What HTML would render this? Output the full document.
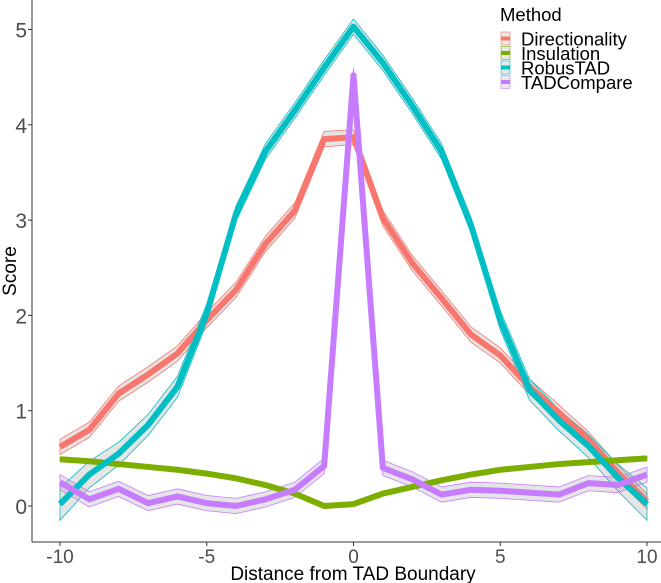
<!DOCTYPE html>
<html><head><meta charset="utf-8"><style>
body{margin:0;background:#fff;}
svg{display:block;font-family:"Liberation Sans",sans-serif;}
</style></head><body>
<svg id="chart" width="661" height="583" viewBox="0 0 661 583" xmlns="http://www.w3.org/2000/svg">
<g id="ribbons"></g>
<g id="lines"></g>
<line x1="32" y1="0" x2="32" y2="542" stroke="#333" stroke-width="1"/>
<line x1="32" y1="542" x2="661" y2="542" stroke="#333" stroke-width="1"/>
<g id="ticks"></g>
<text x="353" y="580" font-size="19" text-anchor="middle" fill="#000">Distance from TAD Boundary</text>
<text transform="translate(16,271) rotate(-90)" font-size="19" text-anchor="middle" fill="#000">Score</text>
<g>
<text x="500" y="21" font-size="18.5" fill="#000">Method</text>
<g id="legend-entries"></g>
</g>
</svg>
<script>
const xs = [-10,-9,-8,-7,-6,-5,-4,-3,-2,-1,0,1,2,3,4,5,6,7,8,9,10];
const directionality = [0.62,0.8,1.18,1.38,1.6,1.95,2.27,2.75,3.1,3.85,3.87,3.02,2.55,2.18,1.8,1.58,1.25,0.98,0.7,0.35,0.05];
const insulation = [0.49,0.47,0.44,0.41,0.38,0.34,0.29,0.22,0.13,0.0,0.02,0.13,0.2,0.27,0.33,0.38,0.41,0.44,0.46,0.48,0.5];
const robustad = [0.02,0.33,0.55,0.85,1.25,2.02,3.07,3.72,4.15,4.6,5.03,4.65,4.2,3.72,2.95,1.95,1.22,0.9,0.63,0.3,0.02];
const tadcompare = [0.25,0.07,0.18,0.03,0.1,0.03,0.0,0.07,0.17,0.42,4.52,0.4,0.28,0.12,0.17,0.16,0.14,0.12,0.24,0.22,0.33];
const robusErr = [0.17,0.14,0.12,0.11,0.11,0.1,0.08,0.08,0.08,0.08,0.08,0.08,0.08,0.08,0.08,0.1,0.11,0.11,0.12,0.14,0.17];
const seriesNames = ["Directionality","Insulation","RobusTAD","TADCompare"];
const xTicks = [-10,-5,0,5,10];
const yTicks = [0,1,2,3,4,5];
const colors = ["#F8766D","#7CAE00","#00BFC4","#C77CFF"];
const X = v => 60 + (v+10)*(647-60)/20;
const Y = v => 506 - v*95.3;
const NS="http://www.w3.org/2000/svg";
const rib=document.getElementById('ribbons'), lin=document.getElementById('lines'), tk=document.getElementById('ticks');
const data=[directionality,insulation,robustad,tadcompare];
const errs=[xs.map(()=>0.08),xs.map(()=>0.02),robusErr,xs.map(()=>0.08)];
data.forEach((d,i)=>{
  const up=d.map((v,j)=>X(xs[j])+','+Y(v+errs[i][j]));
  const lo=d.map((v,j)=>X(xs[j])+','+Y(v-errs[i][j])).reverse();
  const p=document.createElementNS(NS,'polygon');
  p.setAttribute('points',up.concat(lo).join(' '));
  p.setAttribute('fill','rgba(150,150,150,0.25)');
  p.setAttribute('stroke',colors[i]);p.setAttribute('stroke-width','0.8');
  
  
  rib.appendChild(p);
});
data.forEach((d,i)=>{
  const l=document.createElementNS(NS,'polyline');
  l.setAttribute('points',d.map((v,j)=>X(xs[j])+','+Y(v)).join(' '));
  l.setAttribute('fill','none');l.setAttribute('stroke',colors[i]);l.setAttribute('stroke-width','6');
  l.setAttribute('stroke-linejoin','round');
  
  
  lin.appendChild(l);
});
xTicks.forEach(t=>{
  const ln=document.createElementNS(NS,'line');
  ln.setAttribute('x1',X(t));ln.setAttribute('x2',X(t));ln.setAttribute('y1',542);ln.setAttribute('y2',546);ln.setAttribute('stroke','#333');
  
  
  tk.appendChild(ln);
  const tx=document.createElementNS(NS,'text');
  tx.setAttribute('x',X(t));tx.setAttribute('y',563);tx.setAttribute('font-size','19');tx.setAttribute('text-anchor','middle');tx.setAttribute('fill','#4d4d4d');
  tx.textContent=t;
  
  
  tk.appendChild(tx);
});
yTicks.forEach(t=>{
  const ln=document.createElementNS(NS,'line');
  ln.setAttribute('x1',28);ln.setAttribute('x2',32);ln.setAttribute('y1',Y(t));ln.setAttribute('y2',Y(t));ln.setAttribute('stroke','#333');
  
  
  tk.appendChild(ln);
  const tx=document.createElementNS(NS,'text');
  tx.setAttribute('x',27);tx.setAttribute('y',Y(t)+8);tx.setAttribute('font-size','21');tx.setAttribute('text-anchor','end');tx.setAttribute('fill','#4d4d4d');
  tx.textContent=t;
  
  
  tk.appendChild(tx);
});
const lg=document.getElementById('legend-entries');
seriesNames.forEach((n,i)=>{
  const y0=32+i*14.5;
  const r=document.createElementNS(NS,'rect');
  r.setAttribute('x',501);r.setAttribute('y',y0);r.setAttribute('width',9);r.setAttribute('height',13);
  r.setAttribute('fill','#e8e8e8');r.setAttribute('stroke',colors[i]);r.setAttribute('stroke-width','0.6');
  
  
  lg.appendChild(r);
  const b=document.createElementNS(NS,'rect');
  b.setAttribute('x',501);b.setAttribute('y',y0+4.5);b.setAttribute('width',9);b.setAttribute('height',4);b.setAttribute('fill',colors[i]);
  
  
  lg.appendChild(b);
  const t=document.createElementNS(NS,'text');
  t.setAttribute('x',521);t.setAttribute('y',y0+13.5);t.setAttribute('font-size','18.5');t.setAttribute('fill','#000');
  t.textContent=n;
  
  
  lg.appendChild(t);
});
</script>
</body></html>
